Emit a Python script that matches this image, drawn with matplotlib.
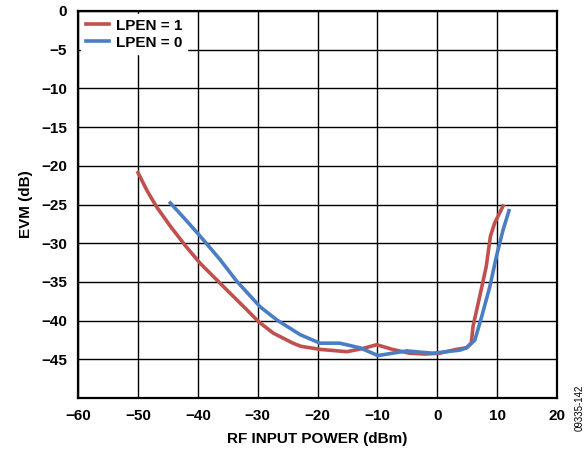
import matplotlib.pyplot as plt

plt.rcParams['font.family'] = ['Liberation Sans', 'DejaVu Sans']

# LPEN = 1 (red)
lpen1_x = [-50.0, -48.5, -46.9, -44.6, -42.0, -39.6, -35.2, -31.8, -29.9, -27.4,
           -24.1, -22.8, -19.6, -15.1, -12.5, -10.1, -7.5, -4.6, -2.0, 0.4,
           3.2, 4.9, 5.7, 6.0, 7.1, 8.2, 8.9, 9.6, 11.0]
lpen1_y = [-20.9, -23.2, -25.3, -27.8, -30.4, -32.6, -36.0, -38.6, -40.1, -41.6,
           -42.9, -43.3, -43.7, -44.0, -43.6, -43.1, -43.7, -44.2, -44.3, -44.2,
           -43.7, -43.5, -42.9, -40.7, -36.9, -33.0, -29.1, -27.4, -25.2]

# LPEN = 0 (blue)
lpen0_x = [-44.6, -42.0, -39.6, -36.3, -33.5, -29.6, -26.8, -22.9, -19.6, -16.3,
           -12.9, -9.9, -7.5, -5.1, -0.7, 3.8, 4.9, 6.3, 7.5, 8.8, 9.9, 11.0, 12.0]
lpen0_y = [-24.8, -27.0, -29.1, -32.1, -34.9, -38.2, -39.9, -41.8, -42.9, -42.9,
           -43.5, -44.5, -44.2, -43.9, -44.2, -43.8, -43.5, -42.5, -39.3, -35.6, -31.7, -28.3, -25.8]

x_ticks = list(range(-60, 21, 10))
y_ticks = list(range(-45, 1, 5))

fig = plt.figure(figsize=(5.88, 4.54), dpi=100)
ax = fig.add_axes([0.133, 0.123, 0.814, 0.853])

ax.plot(lpen1_x, lpen1_y, color="#C0504D", linewidth=2.6, label="LPEN = 1",
        solid_joinstyle="round", zorder=3)
ax.plot(lpen0_x, lpen0_y, color="#4A7EC4", linewidth=2.6, label="LPEN = 0",
        solid_joinstyle="round", zorder=3)

ax.set_xlim(-60, 20)
ax.set_ylim(-50, 0)
ax.set_xticks(x_ticks)
ax.set_yticks(y_ticks + [-50])
ax.set_yticklabels([str(v).replace("-", "\u2212") for v in y_ticks] + [""])
ax.set_xticklabels([str(v).replace("-", "\u2212") for v in x_ticks])
ax.tick_params(length=0, labelsize=11, pad=8)
for lab in ax.get_xticklabels() + ax.get_yticklabels():
    lab.set_fontweight("bold")

ax.grid(True, color="black", linewidth=1.0)
ax.set_axisbelow(True)
for sp in ax.spines.values():
    sp.set_linewidth(1.6)

ax.set_xlabel("RF INPUT POWER (dBm)", fontsize=11, fontweight="bold", labelpad=6)
ax.set_ylabel("EVM (dB)", fontsize=11, fontweight="bold", labelpad=6)

leg = ax.legend(loc="upper left", frameon=True, fancybox=False, framealpha=1,
                edgecolor="white", prop={"weight": "bold", "size": 11},
                handlelength=1.5, handletextpad=0.5, borderaxespad=0.2,
                labelspacing=0.2, borderpad=0.3)

fig.text(0.985, 0.05, "09335-142", rotation=90, fontsize=7, ha="center", va="bottom")

fig.savefig("out.png", dpi=100)
